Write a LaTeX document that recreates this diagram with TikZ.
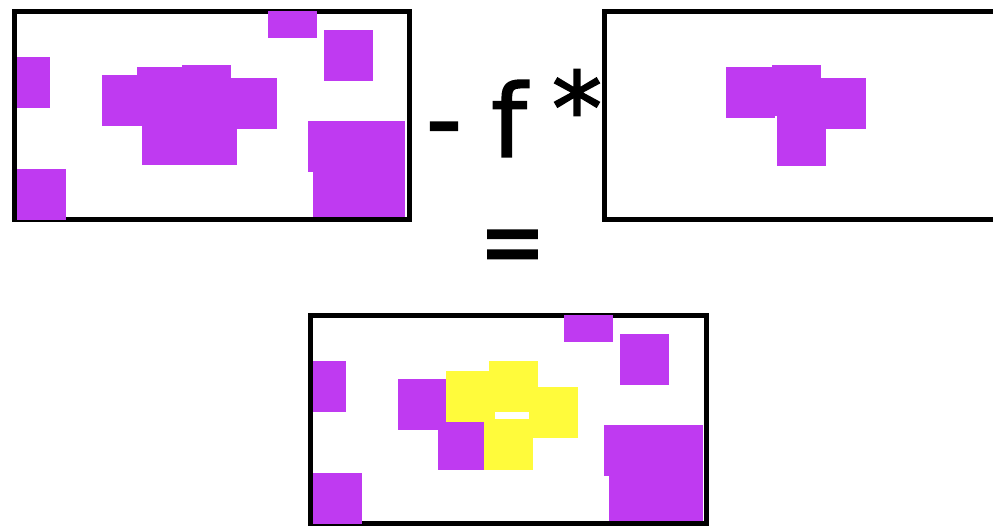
\documentclass[tikz,border=0pt]{standalone}
\usepackage{fontspec}
\setmainfont{DejaVu Sans}
\newfontfamily\opfont[FakeBold=1.6]{DejaVu Sans}
\usetikzlibrary{positioning}
\definecolor{blobpurple}{HTML}{BF3AF1}
\definecolor{hotyellow}{HTML}{FFFB3B}

\begin{document}
\begin{tikzpicture}[
    x=1pt, y=-1pt,
    frame/.style={draw=black, line width=5pt},
    blob/.style={fill=blobpurple},
    hit/.style={fill=hotyellow},
    op/.style={font=\opfont\fontsize{101}{110}\selectfont, inner sep=0pt, text=black}
  ]
    \useasboundingbox (0,0) rectangle (993,525);
    \fill[white] (0,0) rectangle (993,525);
    % scene
    \draw[frame] (14.5,11.5) rectangle (409.5,219.5);
    \fill[blob] (268,11) rectangle (317,38);
    \fill[blob] (324,30) rectangle (373,81);
    \fill[blob] (17,57) rectangle (50,108);
    \fill[blob] (17,169) rectangle (66,220);
    \fill[blob] (308,121) rectangle (405,172);
    \fill[blob] (313,172) rectangle (405,217);
    \fill[blob] (102,75) rectangle (151,126);
    \fill[blob] (142,114) rectangle (191,165);
    \fill[blob] (137,67) rectangle (186,118);
    \fill[blob] (182,65) rectangle (231,116);
    \fill[blob] (228,78) rectangle (277,129);
    \fill[blob] (188,114) rectangle (237,165);
    % kernel
    \draw[frame] (604.5,11.5) rectangle (1000,219.5);
    \fill[blob] (726,67) rectangle (775,118);
    \fill[blob] (772,65) rectangle (821,116);
    \fill[blob] (817,78) rectangle (866,129);
    \fill[blob] (777,115) rectangle (826,166);
    % operators
    \node[op] (minus) at (444,138) {-};
    \node[op] (fac) at (509,118.5) {f};
    \node[op] (conv) at (577,107) {*};
    \node[op] (eq) at (512.5,253) {\scalebox{0.78}[1]{=}};
    % result
    \draw[frame] (310.5,315.5) rectangle (706.5,523.5);
    \fill[blob] (564,315) rectangle (613,342);
    \fill[blob] (620,334) rectangle (669,385);
    \fill[blob] (313,361) rectangle (346,412);
    \fill[blob] (313,473) rectangle (362,524);
    \fill[blob] (604,425) rectangle (703,476);
    \fill[blob] (609,476) rectangle (703,521);
    \fill[blob] (398,379) rectangle (446,430);
    \fill[blob] (438,419) rectangle (487,470);
    \fill[hit] (446,371) rectangle (495,422);
    \fill[hit] (489,361) rectangle (538,412);
    \fill[hit] (529,387) rectangle (578,438);
    \fill[hit] (484,419) rectangle (533,470);
  \end{tikzpicture}
\end{document}
